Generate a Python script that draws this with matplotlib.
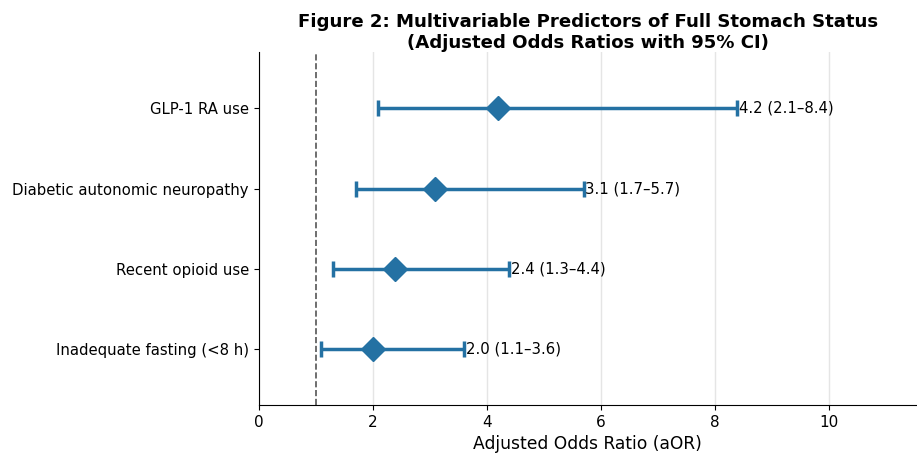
import matplotlib.pyplot as plt
import numpy as np

predictors = ["Inadequate fasting (<8 h)", "Recent opioid use",
              "Diabetic autonomic neuropathy", "GLP-1 RA use"]
aor = [2.0, 2.4, 3.1, 4.2]
lower = [1.1, 1.3, 1.7, 2.1]
upper = [3.6, 4.4, 5.7, 8.4]

color = "#2471a3"
y = np.arange(len(predictors))
aor_a = np.array(aor)
err = [aor_a - np.array(lower), np.array(upper) - aor_a]

fig, ax = plt.subplots(figsize=(9.17, 4.59), dpi=100)
fig.subplots_adjust(left=0.282, right=1.0, top=0.886, bottom=0.118)

ax.errorbar(aor, y, xerr=err, fmt="D", color=color, ecolor=color,
            markersize=12.5, elinewidth=2.5, capsize=6, capthick=2.5, zorder=3)
ax.axvline(1, color="#555555", linestyle="--", linewidth=1.2, zorder=2)

for yi, a, lo, hi in zip(y, aor, lower, upper):
    ax.text(hi + 0.03, yi, f"{a:.1f} ({lo:.1f}\u2013{hi:.1f})",
            va="center", ha="left", fontsize=10.7)

ax.set_yticks(y)
ax.set_yticklabels(predictors, fontsize=10.7)
ax.set_xlim(0, 11.55)
ax.set_ylim(-0.7, 3.7)
ax.tick_params(axis="x", labelsize=11)
ax.set_xlabel("Adjusted Odds Ratio (aOR)", fontsize=12.3)
ax.set_title("Figure 2: Multivariable Predictors of Full Stomach Status\n"
             "(Adjusted Odds Ratios with 95% CI)", fontsize=13.1, fontweight="bold",
             pad=3, linespacing=1.25)
ax.grid(axis="x", color="#e5e5e5", linewidth=1)
ax.set_axisbelow(True)
ax.spines["top"].set_visible(False)
ax.spines["right"].set_visible(False)

plt.savefig("out.png")
